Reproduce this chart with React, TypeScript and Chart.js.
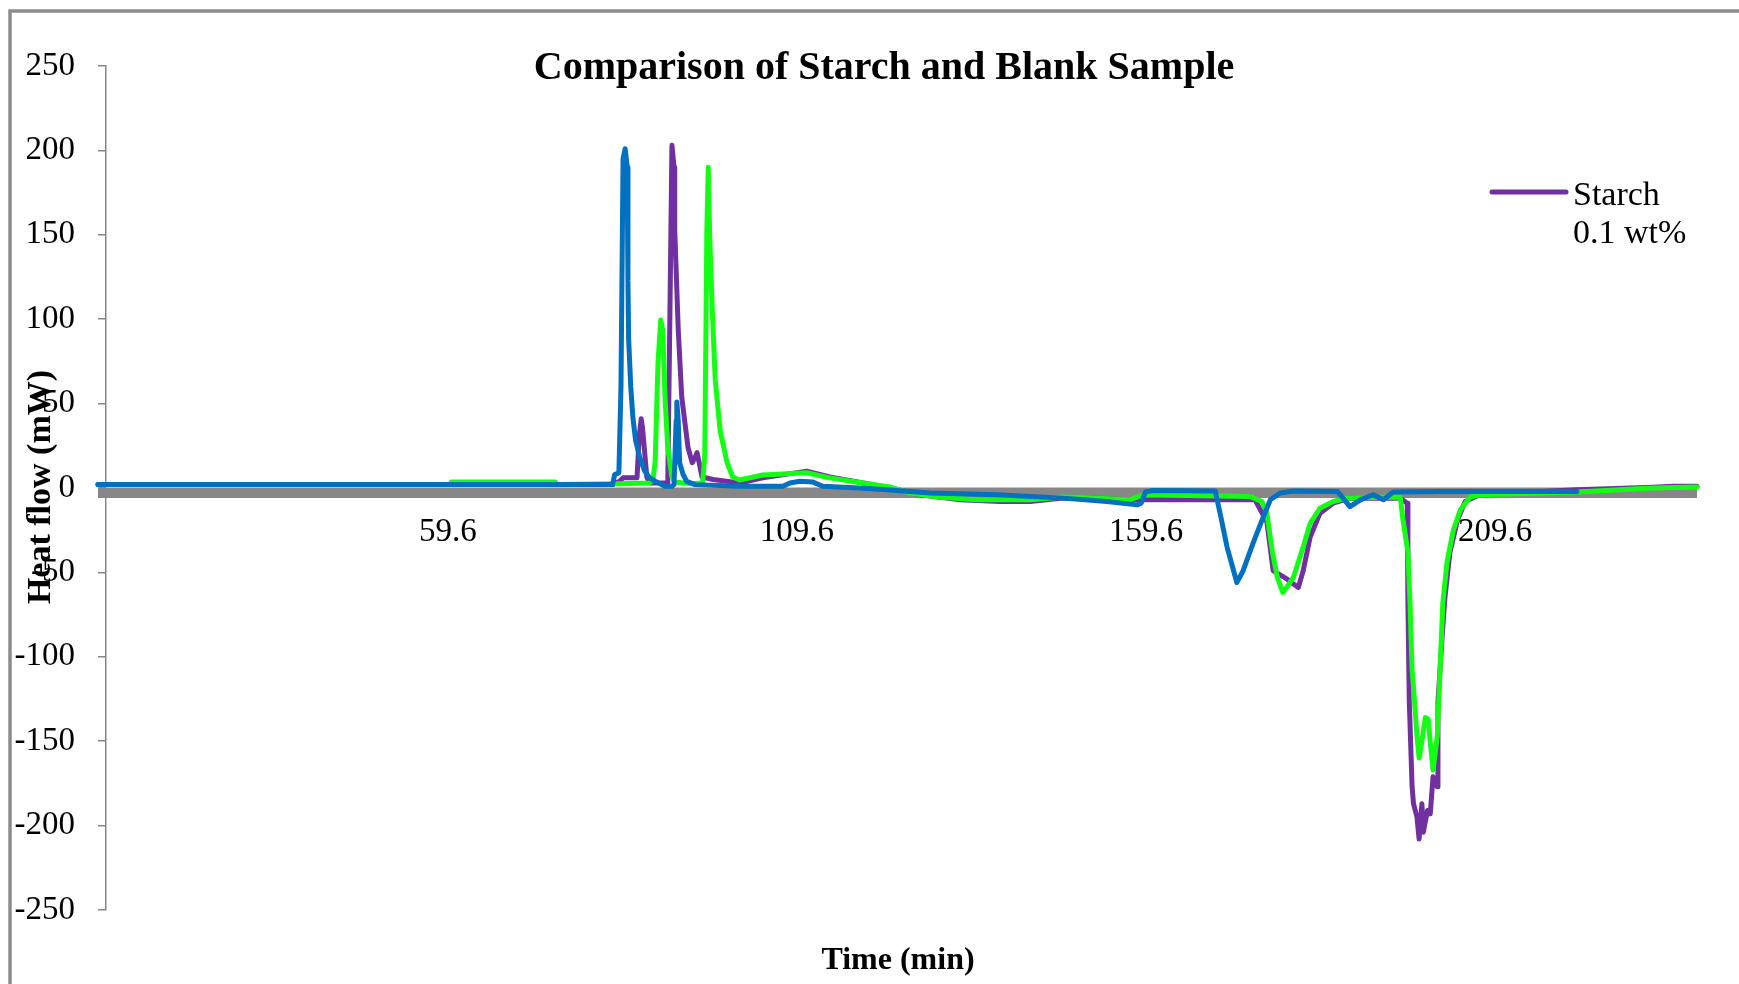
import React, { useEffect, useRef } from "react";
import { Chart, registerables } from "chart.js";

Chart.register(...registerables);

// ---- Data (time in min, heat flow in mW) ----
const starchTime = [9.5, 83.2, 84.2, 84.7, 86.7, 87.0, 87.3, 87.5, 88.1, 88.5, 91.1, 91.4, 91.7, 92.0, 92.1, 92.6, 93.1, 94.0, 94.6, 95.0, 95.3, 95.6, 96.0, 97.6, 101.4, 104.7, 111.0, 114.3, 119.1, 122.9, 127.2, 133.0, 138.7, 143.0, 147.7, 152.6, 157.3, 167.3, 175.2, 176.9, 177.8, 179.8, 181.4, 182.1, 183.1, 184.5, 186.4, 188.8, 196.0, 197.0, 197.1, 197.3, 197.7, 197.9, 198.4, 198.7, 199.1, 199.3, 199.9, 200.3, 200.7, 201.3, 201.4, 202.0, 202.4, 203.1, 204.2, 205.3, 207.4, 221.3, 232.2, 235.1, 238.5];
const starchFlow = [2, 2, 4, 6, 6, 30, 41, 35, 6.5, 3, 3, 100, 203, 190, 153, 94, 54, 24, 15, 18, 21, 15, 6.5, 5, 3, 6, 10, 6.5, 3, 0, -4, -7, -8, -8, -6, -6, -7, -7, -7, -20, -49, -54, -59, -49, -29, -15, -9, -6, -6, -9, -68, -127, -177, -187, -195, -208, -187, -204, -191, -193, -171, -177, -127, -88, -65, -38.5, -19, -8, -4, -1, 0.5, 1, 1];

const greenTime = [9.5, 60.0, 60.1, 75.0, 75.2, 84.2, 88.5, 89.0, 89.3, 89.7, 90.1, 90.4, 90.7, 91.1, 91.7, 92.1, 94.3, 96.1, 96.4, 96.7, 96.9, 97.1, 97.4, 97.9, 98.6, 99.6, 100.4, 101.4, 104.7, 111.0, 114.3, 119.1, 122.9, 125.8, 129.7, 135.4, 143.0, 147.7, 152.6, 157.3, 159.2, 174.5, 176.2, 176.9, 177.7, 178.4, 179.2, 180.7, 182.1, 183.1, 184.5, 186.4, 188.4, 193.1, 196.0, 196.4, 197.1, 197.4, 197.7, 197.9, 198.4, 198.7, 199.1, 199.6, 200.0, 200.4, 200.7, 201.3, 201.7, 202.1, 202.7, 203.6, 204.6, 206.0, 207.4, 221.3, 232.2, 238.5];
const greenFlow = [2, 2, 3.5, 3.5, 2, 2.5, 3, 5, 16, 74, 99.5, 93, 54, 24, 6.5, 3.5, 2.5, 3, 20, 153, 190, 150, 113, 64, 34, 15, 6.5, 4.7, 7.7, 9, 6, 3, 0.6, -3, -5.3, -7, -7, -5.3, -6, -7, -4, -5, -8, -15, -38, -53, -62, -53, -35, -21, -12, -8, -6, -5.5, -5.5, -19, -38, -68, -108, -118, -147, -160, -150, -136, -137, -155, -167, -147, -108, -68, -44, -25, -13, -5.5, -4, -2.4, 0, 0.6];

const blankTime = [9.5, 83.2, 83.5, 84.1, 84.4, 84.7, 85.0, 85.3, 85.4, 85.5, 85.8, 86.1, 86.5, 87.1, 87.8, 88.5, 89.3, 90.0, 90.7, 91.7, 92.0, 92.3, 92.4, 92.6, 92.8, 93.3, 93.8, 95.0, 101.4, 107.6, 108.6, 110.0, 111.9, 113.3, 118.6, 122.9, 128.7, 138.3, 147.7, 154.0, 158.3, 158.9, 159.5, 160.6, 169.5, 170.2, 171.2, 172.6, 173.5, 174.9, 176.4, 177.4, 178.8, 180.7, 187.0, 187.8, 188.8, 190.3, 192.1, 193.6, 195.0, 201.7, 221.3];
const blankFlow = [2, 2, 8, 9, 60, 195, 201, 190, 123, 88, 60, 42, 28, 18, 10, 6, 4, 2.5, 1, 1, 2, 40, 51, 40, 15, 8, 4, 2, 1, 1, 3, 4, 3.5, 1, 0, -1.2, -3, -4, -6, -8, -10, -9, -2.4, -1.5, -1.8, -15, -35, -56, -49, -33, -17, -7, -3, -1.8, -2, -6, -11, -7, -4, -7, -2.4, -2, -2];

const xTickValues = [59.6, 109.6, 159.6, 209.6];
const titleText = "Comparison of Starch and Blank Sample";
const xTitleText = "Time (min)";
const yTitleText = "Heat flow (mW)";
const legendLines = ["Starch", "0.1 wt%"];

const PURPLE = "#7030A0";
const BLUE = "#0070C0";
const GREEN = "#14FF14";
const AXIS_GRAY = "#868686";
const FRAME_GRAY = "#8C8C8C";
const SERIF = "'Liberation Serif', 'Times New Roman', serif";
const DATA_START = blankTime[0];

const toPoints = (t: number[], v: number[]) => t.map((x, i) => ({ x, y: v[i] }));

const decorPlugin = {
  id: "decor",
  beforeDraw(chart: any) {
    const { ctx } = chart;
    ctx.save();
    ctx.strokeStyle = FRAME_GRAY;
    ctx.lineWidth = 3.5;
    ctx.beginPath();
    ctx.moveTo(10, 984);
    ctx.lineTo(10, 11);
    ctx.lineTo(1739, 11);
    ctx.stroke();
    ctx.restore();
  },
  beforeDatasetsDraw(chart: any) {
    const { ctx, chartArea, scales } = chart;
    const y0 = scales.y.getPixelForValue(0);
    const xs = scales.x.getPixelForValue(DATA_START);
    ctx.save();
    ctx.fillStyle = "#878787";
    ctx.fillRect(xs, y0 - 0.5, chartArea.right - xs, 10.5);
    ctx.restore();
  },
  afterDraw(chart: any) {
    const { ctx } = chart;
    ctx.save();
    ctx.fillStyle = "#000";
    // title
    ctx.font = `bold 40px ${SERIF}`;
    ctx.textAlign = "center";
    ctx.textBaseline = "alphabetic";
    ctx.fillText(titleText, 884, 79);
    // x title
    ctx.font = `bold 32px ${SERIF}`;
    ctx.fillText(xTitleText, 898, 969);
    // y title
    ctx.save();
    ctx.translate(50, 487);
    ctx.rotate(-Math.PI / 2);
    ctx.font = `bold 34px ${SERIF}`;
    ctx.fillText(yTitleText, 0, 0);
    ctx.restore();
    // legend
    ctx.strokeStyle = PURPLE;
    ctx.lineWidth = 5;
    ctx.lineCap = "round";
    ctx.beginPath();
    ctx.moveTo(1492, 192);
    ctx.lineTo(1566, 192);
    ctx.stroke();
    ctx.font = `34px ${SERIF}`;
    ctx.textAlign = "left";
    ctx.fillText(legendLines[0], 1573, 205);
    ctx.fillText(legendLines[1], 1573, 243);
    ctx.restore();
  },
};

export default function App() {
  const ref = useRef<HTMLCanvasElement | null>(null);
  useEffect(() => {
    if (!ref.current) return;
    const chart = new Chart(ref.current, {
      type: "line",
      data: {
        datasets: [
          { label: "Blank", data: toPoints(blankTime, blankFlow), borderColor: BLUE, backgroundColor: BLUE },
          { label: "Starch (2)", data: toPoints(greenTime, greenFlow), borderColor: GREEN, backgroundColor: GREEN },
          { label: "Starch 0.1 wt%", data: toPoints(starchTime, starchFlow), borderColor: PURPLE, backgroundColor: PURPLE },
        ],
      },
      options: {
        responsive: false,
        animation: false,
        layout: { padding: { left: 0, top: 66, right: 42, bottom: 74 } },
        datasets: { line: { clip: false } as any },
        elements: {
          point: { radius: 0, hoverRadius: 0 },
          line: { borderWidth: 5, tension: 0, borderJoinStyle: "round", borderCapStyle: "round" },
        },
        plugins: {
          legend: { display: false },
          title: { display: false },
          tooltip: { enabled: false },
        },
        scales: {
          x: {
            type: "linear",
            min: 10.65,
            max: 238.5,
            position: { y: 0 } as any,
            grid: { display: false, drawTicks: false },
            border: { display: false },
            afterBuildTicks: (scale: any) => {
              scale.ticks = xTickValues.map((value) => ({ value }));
            },
            ticks: {
              autoSkip: false,
              maxRotation: 0,
              padding: 25,
              color: "#000",
              font: { family: SERIF, size: 33 },
              callback: (v: any) => Number(v).toFixed(1),
            },
          },
          y: {
            type: "linear",
            min: -250,
            max: 250,
            position: "left",
            afterFit: (scale: any) => {
              scale.width = 106;
            },
            grid: { drawOnChartArea: false, drawTicks: true, tickLength: 8, color: AXIS_GRAY, lineWidth: 1.5 },
            border: { display: true, color: AXIS_GRAY, width: 1.5 },
            ticks: {
              stepSize: 50,
              padding: 23,
              color: "#000",
              font: { family: SERIF, size: 33 },
            },
          },
        },
      },
      plugins: [decorPlugin],
    });
    return () => chart.destroy();
  }, []);
  return (
    <div style={{ position: "absolute", left: 0, top: 0, width: 1739, height: 984, background: "#fff" }}>
      <canvas ref={ref} width={1739} height={984} style={{ display: "block" }} />
    </div>
  );
}
